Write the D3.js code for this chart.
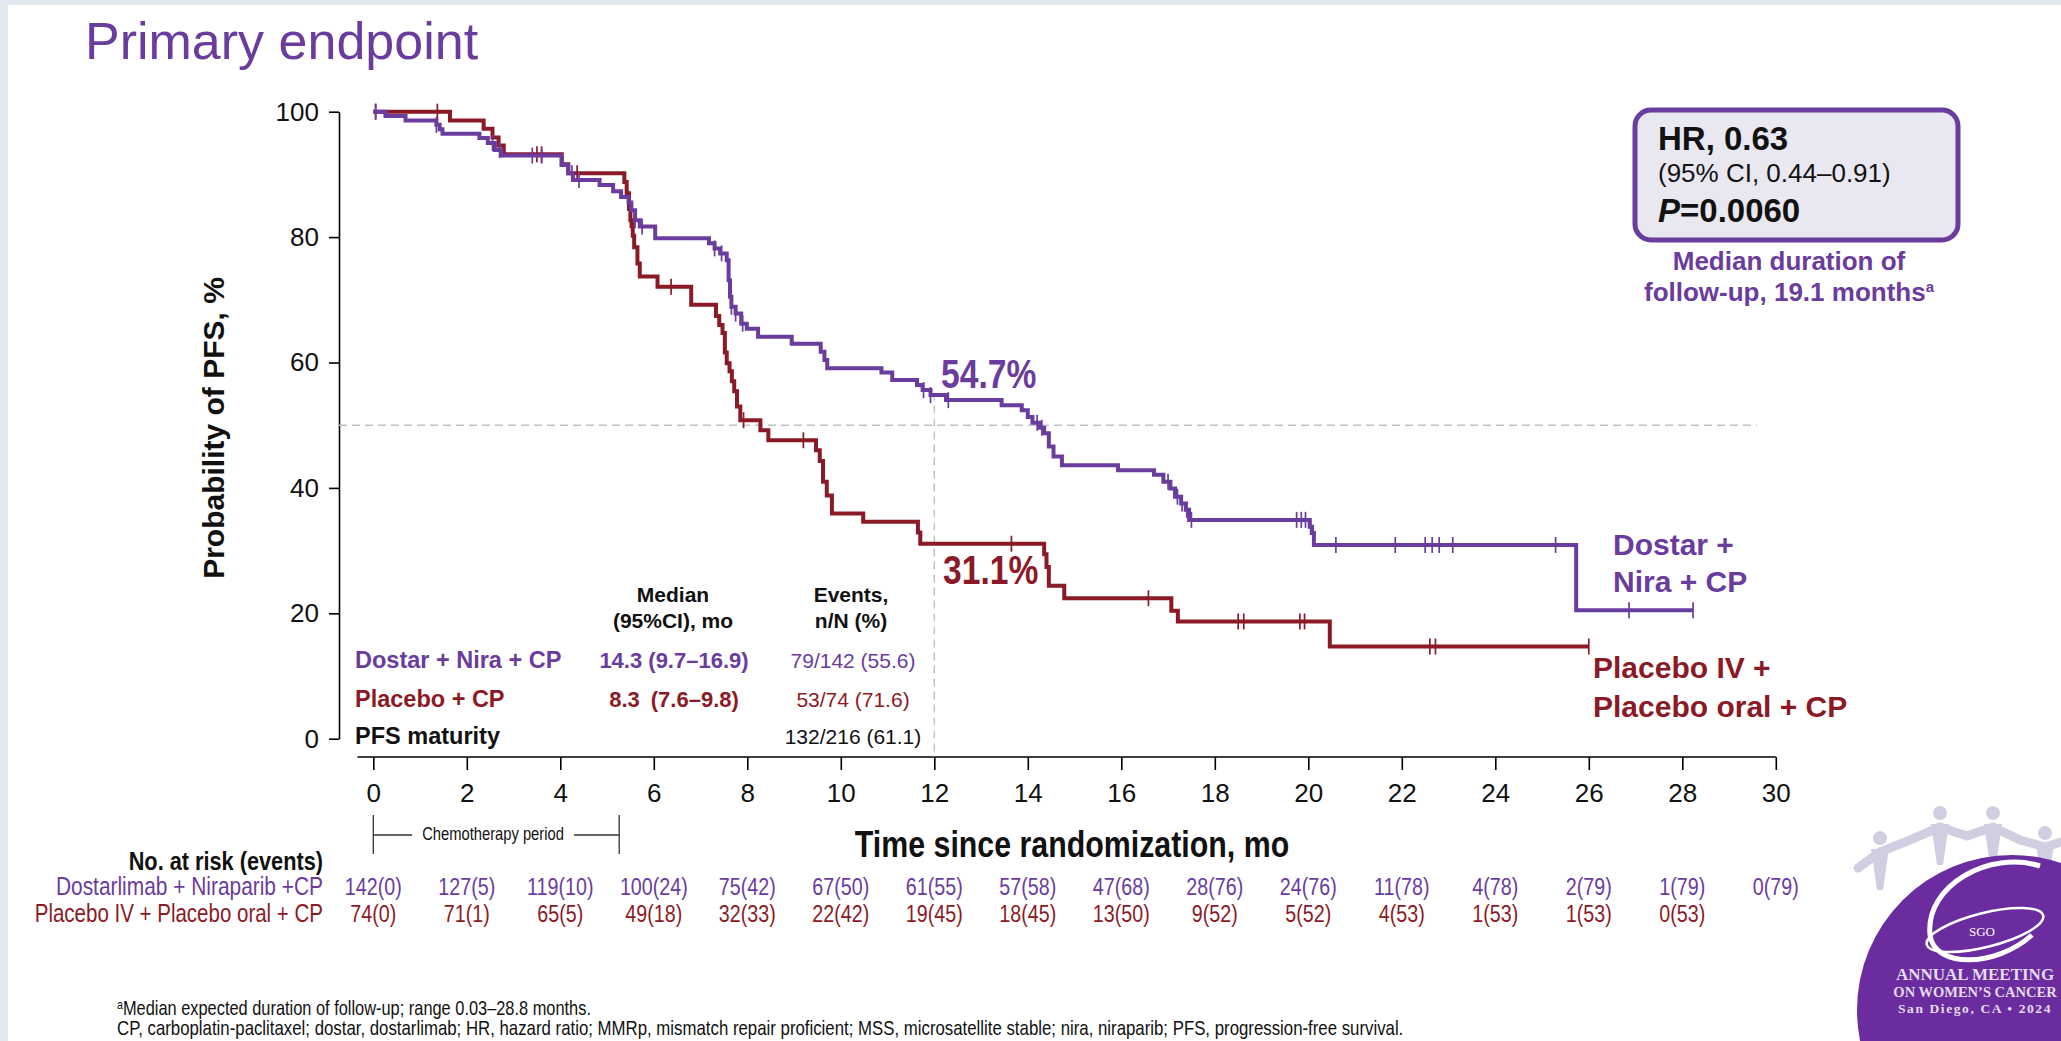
<!DOCTYPE html>
<html>
<head>
<meta charset="utf-8">
<script src="https://cdn.jsdelivr.net/npm/d3@7"></script>
<style>
  html, body { margin:0; padding:0; background:#fff; }
  svg { display:block; }
  text { font-family: "Liberation Sans", Arial, sans-serif; }
  .serif { font-family: "Liberation Serif", "DejaVu Serif", serif; }
</style>
</head>
<body>
<svg id="chart" width="2061" height="1041"></svg>
<script>
// axis ticks
var xTicks = d3.range(0, 31, 2);
var yTicks = [0, 20, 40, 60, 80, 100];

var dostarSteps = [[0,100],[0.26,99.3],[0.69,98.6],[1.35,97.9],[1.42,97.2],[1.48,96.5],[2.27,95.8],[2.45,95.0],
  [2.6,93.9],[2.74,93.0],[4.03,91.5],[4.17,90.2],[4.27,89.1],[4.84,88.3],[5.13,87.3],[5.3,86.4],[5.46,85.5],
  [5.52,84.3],[5.6,82.7],[5.7,81.7],[6.03,79.8],[7.18,79.0],[7.3,78.2],[7.42,77.4],[7.56,76.3],[7.6,73.1],
  [7.63,70.5],[7.66,68.9],[7.75,67.8],[7.87,66.2],[7.99,65.4],[8.23,64.1],[8.95,63.0],[9.57,61.7],[9.65,60.4],
  [9.71,59.1],[10.87,58.4],[11.1,57.2],[11.63,56.4],[11.75,55.6],[11.92,54.8],[12.25,54.0],[13.44,53.2],
  [13.87,52.4],[14.0,51.3],[14.1,50.4],[14.25,49.6],[14.35,48.7],[14.45,46.6],[14.55,45.0],[14.73,43.6],
  [15.93,42.8],[16.7,42.1],[16.9,41.0],[17.05,39.9],[17.15,38.6],[17.28,37.5],[17.38,36.5],[17.45,34.9],
  [20.03,33.8],[20.08,32.8],[20.12,30.9],[25.73,20.5],[28.23,20.5]];
var placeboSteps = [[0,100],[1.64,98.6],[2.36,97.3],[2.55,95.9],[2.68,94.6],[2.79,93.2],[4.03,91.6],[4.17,90.2],
  [5.37,88.8],[5.42,87.0],[5.47,84.5],[5.5,82.7],[5.55,80.2],[5.58,78.4],[5.65,75.8],[5.7,73.7],[6.08,72.1],
  [6.8,69.2],[7.33,67.4],[7.4,66.0],[7.47,64.7],[7.52,61.6],[7.56,59.9],[7.62,58.6],[7.67,57.0],[7.72,55.4],
  [7.78,53.0],[7.85,50.8],[8.28,49.2],[8.45,47.6],[9.47,46.0],[9.55,44.3],[9.62,41.0],[9.7,38.8],[9.81,35.9],
  [10.48,34.6],[11.65,32.9],[11.7,31.1],[14.35,29.4],[14.4,27.4],[14.45,24.4],[14.78,22.4],[17.07,20.4],
  [17.21,18.7],[20.46,14.7],[26.0,14.7]];
var dostarCensor = [0.05,1.35,2.55,2.7,3.4,3.6,4.25,4.4,5.6,5.75,7.3,7.45,7.66,7.75,7.9,11.77,11.92,12.3,14.2,14.3,
  17.0,17.2,17.3,17.4,17.5,19.75,19.85,19.94,20.05,20.59,21.86,22.5,22.65,22.8,23.09,25.29,26.86,28.23];
var placeboCensor = [0.05,1.37,3.5,3.6,4.36,5.5,6.37,7.92,9.2,13.65,16.58,18.5,18.62,19.82,19.92,22.6,22.72,26.0];

// number at risk (events)
var riskDostar = ["142(0)","127(5)","119(10)","100(24)","75(42)","67(50)","61(55)","57(58)","47(68)","28(76)",
  "24(76)","11(78)","4(78)","2(79)","1(79)","0(79)"];
var riskPlacebo = ["74(0)","71(1)","65(5)","49(18)","32(33)","22(42)","19(45)","18(45)","13(50)","9(52)",
  "5(52)","4(53)","1(53)","1(53)","0(53)"];

// summary table
var armNames = ["Dostar + Nira + CP", "Placebo + CP", "PFS maturity"];
var armMedians = ["14.3 (9.7\u201316.9)", "8.3\u2002(7.6\u20139.8)", ""];
var armEvents = ["79/142 (55.6)", "53/74 (71.6)", "132/216 (61.1)"];

var PURPLE = "#6a3c9e", RED = "#8b1a26", GREY = "#c2c2c2";

var svg = d3.select("#chart");

// no narrow font installed: squeeze regular one horizontally
function narrow(t) {
  var x = +t.attr("x") || 0, y = +t.attr("y") || 0;
  t.attr("x", 0).attr("y", 0).attr("transform", "translate(" + x + "," + y + ") scale(0.82,1)");
  return t;
}

// slide frame
svg.append("rect").attr("width", 2061).attr("height", 1041).attr("fill", "#e1e8f0");
svg.append("rect").attr("x", 8).attr("y", 5).attr("width", 2053).attr("height", 1036).attr("fill", "#ffffff");

svg.append("text").attr("x", 85).attr("y", 59).attr("font-size", 52).attr("fill", PURPLE)
  .text("Primary endpoint");

// scales
var x = d3.scaleLinear().domain([0, 30]).range([373.3, 1775.8]);
var y = d3.scaleLinear().domain([0, 100]).range([738.7, 111.7]);
var axisY = 757, yAxisX = 339;

// y axis
var gy = svg.append("g").attr("transform", "translate(" + yAxisX + ",0)")
  .call(d3.axisLeft(y).tickValues(yTicks).tickSize(10).tickPadding(10).tickSizeOuter(0));
gy.select(".domain").attr("stroke", "#000").attr("stroke-width", 1.6);
gy.selectAll(".tick line").attr("stroke", "#000").attr("stroke-width", 1.6);
gy.selectAll(".tick text").attr("font-size", 26).attr("fill", "#111")
  .style("font-family", "'Liberation Sans', Arial, sans-serif");

// x axis (line starts a bit left of 0)
var gx = svg.append("g").attr("transform", "translate(0," + axisY + ")")
  .call(d3.axisBottom(x).tickValues(xTicks).tickSize(13).tickPadding(14).tickSizeOuter(0));
gx.select(".domain").attr("d", "M357.5,0H" + x(30)).attr("stroke", "#000").attr("stroke-width", 1.6);
gx.selectAll(".tick line").attr("stroke", "#000").attr("stroke-width", 1.6);
gx.selectAll(".tick text").attr("font-size", 26).attr("fill", "#111")
  .style("font-family", "'Liberation Sans', Arial, sans-serif");

svg.append("text").attr("transform", "translate(224,428) rotate(-90)")
  .attr("text-anchor", "middle").attr("font-size", 30).attr("font-weight", "bold").attr("fill", "#111")
  .text("Probability of PFS, %");

narrow(svg.append("text").attr("x", 1072).attr("y", 857)
  .attr("text-anchor", "middle").attr("font-size", 37).attr("font-weight", "bold").attr("fill", "#111")
  .text("Time since randomization, mo"));

// reference lines
svg.append("line").attr("x1", yAxisX).attr("x2", x(29.6)).attr("y1", y(50)).attr("y2", y(50))
  .attr("stroke", GREY).attr("stroke-width", 1.5).attr("stroke-dasharray", "8,5");
svg.append("line").attr("x1", x(12)).attr("x2", x(12)).attr("y1", y(55.2)).attr("y2", axisY)
  .attr("stroke", GREY).attr("stroke-width", 1.5).attr("stroke-dasharray", "8,5");

// curves
var line = d3.line().x(function(d){ return x(d[0]); }).y(function(d){ return y(d[1]); })
  .curve(d3.curveStepAfter);

function survAt(steps, t) {
  var i = d3.bisectRight(steps.map(function(d){ return d[0]; }), t) - 1;
  return steps[Math.max(i, 0)][1];
}

function drawArm(steps, censor, color) {
  svg.append("path").datum(steps).attr("d", line).attr("fill", "none")
    .attr("stroke", color).attr("stroke-width", 4).attr("stroke-linejoin", "miter");
  svg.append("g").selectAll("line").data(censor).enter().append("line")
    .attr("x1", function(t){ return x(t); }).attr("x2", function(t){ return x(t); })
    .attr("y1", function(t){ return y(survAt(steps, t)) - 8; })
    .attr("y2", function(t){ return y(survAt(steps, t)) + 8; })
    .attr("stroke", color).attr("stroke-width", 1.7);
}
drawArm(placeboSteps, placeboCensor, RED);
drawArm(dostarSteps, dostarCensor, PURPLE);

// 12-month landmarks
narrow(svg.append("text").attr("x", 941).attr("y", 388).attr("font-size", 41)
  .attr("font-weight", "bold").attr("fill", PURPLE).text("54.7%"));
narrow(svg.append("text").attr("x", 943).attr("y", 584).attr("font-size", 41)
  .attr("font-weight", "bold").attr("fill", RED).text("31.1%"));

// arm labels at the right
var lab = svg.append("g").attr("font-size", 30).attr("font-weight", "bold");
lab.append("text").attr("x", 1613).attr("y", 555).attr("fill", PURPLE).text("Dostar +");
lab.append("text").attr("x", 1613).attr("y", 592).attr("fill", PURPLE).text("Nira + CP");
lab.append("text").attr("x", 1593).attr("y", 678).attr("fill", RED).text("Placebo IV +");
lab.append("text").attr("x", 1593).attr("y", 717).attr("fill", RED).text("Placebo oral + CP");

// summary table inside the plot
var hdr = svg.append("g").attr("font-size", 21).attr("font-weight", "bold").attr("fill", "#111")
  .attr("text-anchor", "middle");
hdr.append("text").attr("x", 673).attr("y", 602).text("Median");
hdr.append("text").attr("x", 673).attr("y", 628).text("(95%CI), mo");
hdr.append("text").attr("x", 851).attr("y", 602).text("Events,");
hdr.append("text").attr("x", 851).attr("y", 628).text("n/N (%)");

var rowColors = [PURPLE, RED, "#111"];
var rowY = [668, 707, 744];
armNames.forEach(function(name, i) {
  svg.append("text").attr("x", 355).attr("y", rowY[i]).attr("font-size", 23.5).attr("font-weight", "bold")
    .attr("fill", rowColors[i]).text(name);
  svg.append("text").attr("x", 674).attr("y", rowY[i]).attr("text-anchor", "middle").attr("font-size", 22)
    .attr("font-weight", "bold").attr("fill", rowColors[i]).text(armMedians[i]);
  svg.append("text").attr("x", 853).attr("y", rowY[i]).attr("text-anchor", "middle").attr("font-size", 21)
    .attr("fill", rowColors[i]).text(armEvents[i]);
});

// HR box
svg.append("rect").attr("x", 1635).attr("y", 110).attr("width", 323).attr("height", 130).attr("rx", 16)
  .attr("fill", "#e9e7ef").attr("stroke", PURPLE).attr("stroke-width", 5);
svg.append("text").attr("x", 1658).attr("y", 150).attr("font-size", 33).attr("font-weight", "bold")
  .attr("fill", "#111").text("HR, 0.63");
svg.append("text").attr("x", 1658).attr("y", 182).attr("font-size", 26).attr("fill", "#111")
  .text("(95% CI, 0.44\u20130.91)");
var pt = svg.append("text").attr("x", 1658).attr("y", 222).attr("font-size", 33).attr("font-weight", "bold")
  .attr("fill", "#111");
pt.append("tspan").attr("font-style", "italic").text("P");
pt.append("tspan").text("=0.0060");
svg.append("text").attr("x", 1789).attr("y", 270).attr("text-anchor", "middle").attr("font-size", 26)
  .attr("font-weight", "bold").attr("fill", PURPLE).text("Median duration of");
var fu = svg.append("text").attr("x", 1789).attr("y", 301).attr("text-anchor", "middle").attr("font-size", 26)
  .attr("font-weight", "bold").attr("fill", PURPLE);
fu.append("tspan").text("follow-up, 19.1 months");
fu.append("tspan").attr("font-size", 15).attr("dy", -9).text("a");

// chemotherapy period bracket
var cx0 = x(0), cx1 = x(5.26);
var br = svg.append("g").attr("stroke", "#333").attr("stroke-width", 1.3);
br.append("line").attr("x1", cx0).attr("x2", cx0).attr("y1", 815).attr("y2", 854);
br.append("line").attr("x1", cx1).attr("x2", cx1).attr("y1", 815).attr("y2", 854);
br.append("line").attr("x1", cx0).attr("x2", 412).attr("y1", 835).attr("y2", 835);
br.append("line").attr("x1", 574).attr("x2", cx1).attr("y1", 835).attr("y2", 835);
narrow(svg.append("text").attr("x", 493).attr("y", 840).attr("text-anchor", "middle")
  .attr("font-size", 18).attr("fill", "#111").text("Chemotherapy period"));

// number at risk table
narrow(svg.append("text").attr("x", 323).attr("y", 870).attr("text-anchor", "end")
  .attr("font-size", 26.5).attr("font-weight", "bold").attr("fill", "#111").text("No. at risk (events)"));
narrow(svg.append("text").attr("x", 323).attr("y", 895).attr("text-anchor", "end")
  .attr("font-size", 25.5).attr("fill", PURPLE).text("Dostarlimab + Niraparib +CP"));
narrow(svg.append("text").attr("x", 323).attr("y", 922).attr("text-anchor", "end")
  .attr("font-size", 25).attr("fill", RED).text("Placebo IV + Placebo oral + CP"));
svg.append("g").selectAll("text").data(riskDostar).enter().append("text")
  .attr("x", function(d, i){ return x(xTicks[i]); }).attr("y", 895).attr("text-anchor", "middle")
  .attr("font-size", 24).attr("fill", PURPLE).text(function(d){ return d; })
  .each(function(){ narrow(d3.select(this)); });
svg.append("g").selectAll("text").data(riskPlacebo).enter().append("text")
  .attr("x", function(d, i){ return x(xTicks[i]); }).attr("y", 922).attr("text-anchor", "middle")
  .attr("font-size", 24).attr("fill", RED).text(function(d){ return d; })
  .each(function(){ narrow(d3.select(this)); });

// footnotes
var f1 = narrow(svg.append("text").attr("x", 117).attr("y", 1015).attr("font-size", 20)
  .attr("fill", "#111"));
f1.append("tspan").attr("font-size", 13).attr("dy", -6).text("a");
f1.append("tspan").attr("dy", 6).text("Median expected duration of follow-up; range 0.03\u201328.8 months.");
narrow(svg.append("text").attr("x", 117).attr("y", 1035).attr("font-size", 20.5)
  .attr("fill", "#111")
  .text("CP, carboplatin-paclitaxel; dostar, dostarlimab; HR, hazard ratio; MMRp, mismatch repair proficient; MSS, microsatellite stable; nira, niraparib; PFS, progression-free survival."));

// SGO logo
var logo = svg.append("g");
var figs = [[1880, 838], [1940, 813], [1993, 813], [2045, 833]];
logo.append("path").attr("d", "M1858,868 L1880,852 L1910,840 L1940,827 L1967,836 L1993,827 L2020,840 L2045,847 L2061,842")
  .attr("fill", "none").attr("stroke", "#d2cee2").attr("stroke-width", 9).attr("stroke-linecap", "round")
  .attr("stroke-linejoin", "round");
figs.forEach(function(f) {
  logo.append("circle").attr("cx", f[0]).attr("cy", f[1]).attr("r", 7).attr("fill", "#d2cee2");
  logo.append("path").attr("d", "M" + (f[0] - 9) + "," + (f[1] + 11) + " L" + (f[0] + 9) + "," + (f[1] + 11) +
    " L" + (f[0] + 3) + "," + (f[1] + 52) + " L" + (f[0] - 3) + "," + (f[1] + 52) + "Z").attr("fill", "#d2cee2");
});
logo.append("circle").attr("cx", 2012).attr("cy", 1010).attr("r", 155).attr("fill", "#6a2c9f");
logo.append("path").attr("d", "M2040,866 C1990,850 1925,885 1930,935 C1934,968 1995,968 2032,935")
  .attr("fill", "none").attr("stroke", "#ffffff").attr("stroke-width", 5);
logo.append("ellipse").attr("cx", 1985).attr("cy", 930).attr("rx", 60).attr("ry", 17)
  .attr("transform", "rotate(-14,1985,930)").attr("fill", "none").attr("stroke", "#ffffff").attr("stroke-width", 2.5);
logo.append("text").attr("class", "serif").attr("x", 1982).attr("y", 936).attr("text-anchor", "middle")
  .attr("font-size", 13).attr("fill", "#ffffff").text("SGO");
var lt = logo.append("g").attr("fill", "#e4dcef").attr("text-anchor", "middle").attr("font-weight", "bold");
lt.append("text").attr("class", "serif").attr("x", 1975).attr("y", 980).attr("font-size", 17).text("ANNUAL MEETING");
lt.append("text").attr("class", "serif").attr("x", 1975).attr("y", 997).attr("font-size", 14.5).text("ON WOMEN\u2019S CANCER");
lt.append("text").attr("class", "serif").attr("x", 1975).attr("y", 1013).attr("font-size", 13.5)
  .attr("letter-spacing", 1.6).text("San Diego, CA \u2022 2024");
</script>
</body>
</html>
